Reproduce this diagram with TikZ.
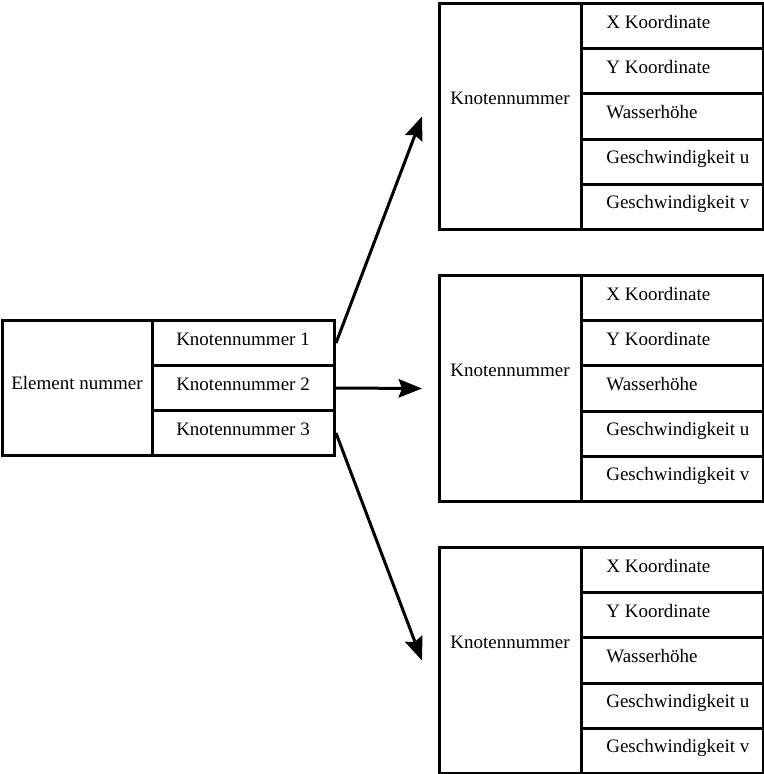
\documentclass[tikz,border=0pt]{standalone}
\usepackage{fontspec}
\setmainfont{Liberation Serif}
\usetikzlibrary{arrows.meta}
\tikzset{
  cell/.style={draw, line width=1.8pt, anchor=north west, inner sep=0pt},
  txt/.style={anchor=base, inner sep=0pt, font=\fontsize{11.4pt}{13pt}\selectfont},
  pfeil/.style={-{Stealth[length=14pt,width=11pt,inset=2pt]}, line width=1.8pt}
}
\begin{document}
\begin{tikzpicture}[x=0.6pt,y=-0.6pt]
  \useasboundingbox (0,0) rectangle (764,774);
  % Element
  \node[cell, minimum width=90pt, minimum height=81pt] (elem) at (1,319) {};
  \node[txt] (elemtxt) at (77,389) {Element nummer};
  \foreach \i in {1,2,3} {
    \node[cell, minimum width=109.2pt, minimum height=27pt] (kn\i) at (151,{319+45*(\i-1)}) {};
    \node[txt] (kntxt\i) at (243,{319+45*(\i-1)+26}) {Knotennummer \i};
  }
  %% Knoten
  \foreach \i/\top in {1/2, 2/274, 3/546} {
    \node[cell, minimum width=85.2pt, minimum height=135.6pt] (kk\i) at (438,\top) {};
    \node[txt] (kktxt\i) at (510,\top+102) {Knotennummer};
    \coordinate (ziel\i) at ([xshift=-9.6pt]kk\i.west);
    \foreach \j/\lab in {1/X Koordinate, 2/Y Koordinate, 3/Wasserhöhe,
                         4/Geschwindigkeit u, 5/Geschwindigkeit v} {
      \node[cell, minimum width=109.2pt, minimum height=27.12pt] (wert\i\j) at (580,{\top+45.2*(\j-1)}) {};
      \node[txt, anchor=base west] (werttxt\i\j) at (606,{\top+45.2*(\j-1)+26}) {\lab};
    }
  }
  %% Pfeile
  \draw[pfeil] (kn1.east) -- (ziel1);
  \draw[pfeil] (kn2.east) -- (ziel2);
  \draw[pfeil] (kn3.east) -- (ziel3);
\end{tikzpicture}
\end{document}
